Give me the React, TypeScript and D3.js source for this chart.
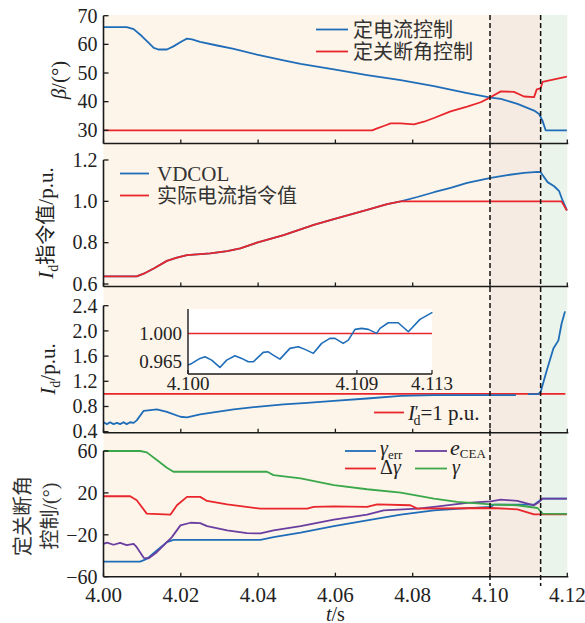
import * as d3 from 'd3';

// time axis
const tTicks = [4.0, 4.02, 4.04, 4.06, 4.08, 4.1, 4.12];
const tSwitch1 = 4.1;
const tSwitch2 = 4.1131;

// panel 1: beta
const betaTicks = [30, 40, 50, 60, 70];
const ccT = [4.0, 4.006, 4.0078, 4.0099, 4.0117, 4.013, 4.0142, 4.0164, 4.0181, 4.0203, 4.0216, 4.0229, 4.025, 4.0294, 4.0337, 4.0397, 4.0466, 4.051, 4.0596, 4.0682, 4.0769, 4.0855, 4.0941, 4.1002, 4.1028, 4.1071, 4.1114, 4.1127, 4.1136, 4.1144, 4.1199];
const ccV = [66, 66, 65.3, 62.9, 60.5, 58.8, 58.2, 58.2, 59.3, 61.1, 62.0, 61.7, 60.9, 59.6, 58.4, 56.4, 54.4, 53.2, 51.3, 49.3, 47.5, 45.4, 43.0, 41.4, 41.0, 39.2, 36.9, 35.7, 33.3, 30, 30];
const ceaT = [4.0, 4.0695, 4.0708, 4.0725, 4.0743, 4.0769, 4.0803, 4.0829, 4.0855, 4.0898, 4.0941, 4.0976, 4.1002, 4.1028, 4.1062, 4.1088, 4.1114, 4.1121, 4.1131, 4.1136, 4.1166, 4.1199];
const ceaV = [30, 30, 30.7, 31.5, 32.4, 32.4, 32.1, 33.0, 34.3, 36.6, 38.3, 39.8, 41.6, 43.6, 43.4, 41.8, 41.6, 44.3, 44.6, 46.9, 47.8, 48.7];

// panel 2: Id order
const idOrdTicks = [0.6, 0.8, 1.0, 1.2];
const actT = [4.0, 4.0086, 4.0104, 4.013, 4.0164, 4.019, 4.0216, 4.0276, 4.032, 4.0354, 4.0397, 4.0466, 4.0544, 4.0596, 4.0682, 4.0734, 4.0769, 4.1185, 4.1199];
const actV = [0.637, 0.637, 0.65, 0.675, 0.712, 0.728, 0.74, 0.748, 0.759, 0.772, 0.8, 0.837, 0.886, 0.914, 0.959, 0.987, 1.0, 1.0, 0.956];
const vdcolT = [4.0, 4.0086, 4.0104, 4.013, 4.0164, 4.019, 4.0216, 4.0276, 4.032, 4.0354, 4.0397, 4.0466, 4.0544, 4.0596, 4.0682, 4.0734, 4.0769, 4.0812, 4.0855, 4.0898, 4.0941, 4.1002, 4.1045, 4.1088, 4.1123, 4.1131, 4.1149, 4.1166, 4.1179, 4.1187, 4.1199];
const vdcolV = [0.637, 0.637, 0.65, 0.675, 0.712, 0.728, 0.74, 0.748, 0.759, 0.772, 0.8, 0.837, 0.886, 0.914, 0.959, 0.987, 1.0, 1.021, 1.044, 1.065, 1.089, 1.114, 1.127, 1.138, 1.143, 1.141, 1.093, 1.073, 1.049, 1.008, 0.956];

// panel 3: Id
const idTicks = [0.4, 0.8, 1.2, 1.6, 2.0, 2.4];
const idT = [4.0, 4.0009, 4.0017, 4.0026, 4.0035, 4.0043, 4.0052, 4.006, 4.0069, 4.0078, 4.0086, 4.0104, 4.0138, 4.0164, 4.0199, 4.0216, 4.025, 4.0337, 4.0397, 4.0466, 4.0527, 4.0596, 4.0682, 4.0769, 4.0855, 4.1002, 4.1067, 4.108, 4.1098, 4.1124, 4.1131, 4.1147, 4.1164, 4.1177, 4.1185, 4.1194];
const idV = [0.55, 0.52, 0.55, 0.52, 0.54, 0.52, 0.55, 0.52, 0.55, 0.54, 0.58, 0.732, 0.753, 0.716, 0.637, 0.627, 0.674, 0.753, 0.795, 0.832, 0.858, 0.89, 0.927, 0.969, 0.979, 0.979, 0.979, null, 0.995, 0.995, 1.03, 1.375, 1.72, 1.85, 2.11, 2.31];
const idRef = 1.0;

// inset
const insetTTicks = [4.1, 4.109, 4.113];
const insetVTicks = [0.965, 1.0];
const insetT = [4.1, 4.1002, 4.10064, 4.10091, 4.10126, 4.1017, 4.10206, 4.1025, 4.10286, 4.10321, 4.10348, 4.10401, 4.10428, 4.10454, 4.1049, 4.10543, 4.10588, 4.10623, 4.10668, 4.10712, 4.10756, 4.10783, 4.10827, 4.10854, 4.1089, 4.10925, 4.10961, 4.11005, 4.11023, 4.11067, 4.1112, 4.11174, 4.11236, 4.11302];
const insetV = [0.9609, 0.963, 0.9692, 0.9712, 0.9671, 0.9581, 0.9671, 0.9724, 0.9692, 0.965, 0.965, 0.9766, 0.9773, 0.9733, 0.9683, 0.9815, 0.9835, 0.9803, 0.9754, 0.9877, 0.9938, 0.9938, 0.9877, 0.9917, 1.0049, 1.0062, 1.0049, 1.0, 1.0062, 1.0131, 1.0131, 1.002, 1.0172, 1.0259];

// panel 4: extinction angle control
const gamTicks = [-60, -20, 20, 60];
const errT = [4.0, 4.0095, 4.0112, 4.0138, 4.0164, 4.0181, 4.0406, 4.044, 4.051, 4.0596, 4.0682, 4.0769, 4.0855, 4.0924, 4.1002, 4.101, 4.1114, 4.1136, 4.1199];
const errV = [-45.6, -45.6, -43, -35, -27, -24.8, -24.8, -22.2, -18, -11.7, -6.2, -0.8, 3.4, 5, 6.6, 8.8, 8.8, 14.6, 14.6];
const eT = [4.0, 4.0009, 4.0026, 4.0043, 4.006, 4.0078, 4.0086, 4.0104, 4.0117, 4.0138, 4.0164, 4.0177, 4.0199, 4.0225, 4.025, 4.0268, 4.032, 4.0371, 4.0406, 4.044, 4.051, 4.0596, 4.0682, 4.0725, 4.0812, 4.0855, 4.0941, 4.1002, 4.1028, 4.1071, 4.1114, 4.1127, 4.1136, 4.1199];
const eV = [-28.6, -27.5, -29.5, -27.8, -29.8, -28.6, -31.8, -42, -42.4, -36.6, -27, -22.2, -11, -8.5, -8.8, -11.7, -15.8, -18.4, -18.7, -15.8, -11.7, -5.6, -0.8, 3.4, 5, 6.6, 10.4, 12, 13.6, 12.3, 8.2, 11.4, 14.6, 14.6];
const dT = [4.0, 4.0069, 4.0086, 4.0112, 4.0173, 4.019, 4.0216, 4.025, 4.0268, 4.032, 4.0406, 4.0527, 4.0544, 4.0596, 4.0682, 4.0708, 4.0794, 4.0812, 4.1002, 4.1071, 4.1114, 4.1199];
const dV = [16.8, 16.8, 13, 0.2, -0.8, 8.2, 16.2, 16.2, 12.3, 9.1, 5, 5, 6.6, 7.2, 6.6, 9.1, 8.2, 5, 5.6, 4.3, -0.5, -0.5];
const gT = [4.0, 4.0095, 4.0112, 4.0138, 4.0164, 4.0181, 4.0423, 4.044, 4.051, 4.0596, 4.0682, 4.0769, 4.0855, 4.0915, 4.1002, 4.1071, 4.1123, 4.1136, 4.1199];
const gV = [60, 60, 58.7, 51.4, 44, 40.2, 40.2, 37, 33.8, 27.4, 23.5, 20.3, 14.6, 11.4, 9.1, 8.2, 5.6, 0.2, 0];

const BLUE = '#1f6db8';
const RED = '#e8262c';
const GREEN = '#3aa84a';
const PURPLE = '#6a3ea0';
const SERIF = '"Liberation Serif", "Times New Roman", serif';
const CJK = '"Noto Sans CJK SC", sans-serif';
const AX = '#1a1a1a';

const x = d3.scaleLinear().domain([4.0, 4.12]).range([103.5, 567.3]);

const p1 = d3.scaleLinear().domain([25.4, 70]).range([143.5, 15.7]);
const p2 = d3.scaleLinear().domain([0.588, 1.2]).range([286.5, 160]);
const p3 = d3.scaleLinear().domain([0.384, 2.4]).range([432.7, 305.7]);
const p4 = d3.scaleLinear().domain([-60, 60]).range([576.7, 451]);

const ix = d3.scaleLinear().domain([4.1, 4.113]).range([188, 432]);
const iy = d3.scaleLinear().domain([0.95, 1.03]).range([374, 309]);

function Series({ t, v, sx, sy, color, w = 1.8 }: any) {
  const line = d3.line<number>()
    .defined((i) => v[i] != null)
    .x((i) => sx(t[i]))
    .y((i) => sy(v[i]));
  return <path d={line(d3.range(t.length)) || ''} fill="none" stroke={color} strokeWidth={w} strokeLinejoin="round" />;
}

function Frame({ sy, ticks, fmt }: any) {
  const [bot, top] = sy.range();
  return (
    <g>
      <line x1={x(4.0)} x2={x(4.0)} y1={top} y2={bot} stroke={AX} strokeWidth={1.6} />
      <line x1={x(4.0)} x2={x(4.12) + 1} y1={bot} y2={bot} stroke={AX} strokeWidth={1.6} />
      {tTicks.map((t) => (
        <line key={t} x1={x(t)} x2={x(t)} y1={bot} y2={bot - 4} stroke={AX} strokeWidth={1.3} />
      ))}
      {ticks.map((v: number) => (
        <g key={v}>
          <line x1={x(4.0)} x2={x(4.0) + 5} y1={sy(v)} y2={sy(v)} stroke={AX} strokeWidth={1.3} />
          <text x={x(4.0) - 6} y={sy(v)} dy="0.34em" textAnchor="end" fontFamily={SERIF} fontSize={20} fill="#222">{fmt(v)}</text>
        </g>
      ))}
    </g>
  );
}

function LegendLine({ x1, x2, y, color }: any) {
  return <line x1={x1} x2={x2} y1={y} y2={y} stroke={color} strokeWidth={1.8} />;
}

export default function App() {
  const bgTop = 15;
  const bgBot = 577;
  return (
    <svg width={585} height={623} style={{ position: 'absolute', left: 0, top: 0, background: '#fff' }}>
      {/* operating-mode backgrounds */}
      <rect x={x(4.0)} y={bgTop} width={x(tSwitch1) - x(4.0)} height={bgBot - bgTop} fill="#fdf5e9" />
      <rect x={x(tSwitch1)} y={bgTop} width={x(tSwitch2) - x(tSwitch1)} height={bgBot - bgTop} fill="#f6ebe2" />
      <rect x={x(tSwitch2)} y={bgTop} width={x(4.12) - x(tSwitch2)} height={bgBot - bgTop} fill="#eaf4eb" />

      {/* panel 1 */}
      <Series t={ccT} v={ccV} sx={x} sy={p1} color={BLUE} />
      <Series t={ceaT} v={ceaV} sx={x} sy={p1} color={RED} />
      <Frame sy={p1} ticks={betaTicks} fmt={d3.format('d')} />
      <LegendLine x1={316} x2={348} y={29.5} color={BLUE} />
      <LegendLine x1={316} x2={348} y={51.5} color={RED} />
      <text x={353} y={29.5} dy="0.36em" fontFamily={CJK} fontSize={20} fill="#333">定电流控制</text>
      <text x={353} y={51.5} dy="0.36em" fontFamily={CJK} fontSize={20} fill="#333">定关断角控制</text>
      <text transform="translate(66,80) rotate(-90)" textAnchor="middle" fontFamily={SERIF} fontSize={21} fill="#222">
        <tspan fontStyle="italic">β</tspan>/(°)
      </text>

      {/* panel 2 */}
      <Series t={vdcolT} v={vdcolV} sx={x} sy={p2} color={BLUE} />
      <Series t={actT} v={actV} sx={x} sy={p2} color={RED} />
      <Frame sy={p2} ticks={idOrdTicks} fmt={d3.format('.1f')} />
      <LegendLine x1={120} x2={149} y={173.5} color={BLUE} />
      <LegendLine x1={120} x2={149} y={195.5} color={RED} />
      <text x={157} y={173.5} dy="0.34em" fontFamily={SERIF} fontSize={21} fill="#333">VDCOL</text>
      <text x={157} y={195.5} dy="0.36em" fontFamily={CJK} fontSize={20} fill="#333">实际电流指令值</text>
      <text transform="translate(53,223) rotate(-90)" textAnchor="middle" fontFamily={SERIF} fontSize={21} fill="#222">
        <tspan fontStyle="italic">I</tspan>
        <tspan fontSize={14} dy={5}>d</tspan>
        <tspan dy={-5} fontFamily={CJK} fontSize={20}>指令值</tspan>
        <tspan>/p.u.</tspan>
      </text>

      {/* panel 3 */}
      <line x1={x(4.0)} x2={x(4.1195)} y1={p3(idRef)} y2={p3(idRef)} stroke={RED} strokeWidth={1.8} />
      <Series t={idT} v={idV} sx={x} sy={p3} color={BLUE} />
      <Frame sy={p3} ticks={idTicks} fmt={d3.format('.1f')} />
      <LegendLine x1={374} x2={404} y={412.5} color={RED} />
      <text x={408} y={420} fontFamily={SERIF} fontSize={21} fill="#222">
        <tspan fontStyle="italic">I</tspan>
        <tspan fontSize={16} dy={-3}>′</tspan>
        <tspan fontSize={14} dx={-5} dy={8}>d</tspan>
        <tspan dy={-5}>=1 p.u.</tspan>
      </text>
      <text transform="translate(55,369) rotate(-90)" textAnchor="middle" fontFamily={SERIF} fontSize={21} fill="#222">
        <tspan fontStyle="italic">I</tspan>
        <tspan fontSize={14} dy={5}>d</tspan>
        <tspan dy={-5}>/p.u.</tspan>
      </text>

      {/* inset */}
      <rect x={ix(4.1)} y={iy(1.03)} width={ix(4.113) - ix(4.1)} height={iy(0.95) - iy(1.03)} fill="#fff" />
      <line x1={ix(4.1)} x2={ix(4.113)} y1={iy(1.0)} y2={iy(1.0)} stroke={RED} strokeWidth={1.5} />
      <Series t={insetT} v={insetV} sx={ix} sy={iy} color={BLUE} w={1.6} />
      <line x1={ix(4.1)} x2={ix(4.1)} y1={iy(1.03)} y2={iy(0.95)} stroke={AX} strokeWidth={1.4} />
      <line x1={ix(4.1)} x2={ix(4.113)} y1={iy(0.95)} y2={iy(0.95)} stroke={AX} strokeWidth={1.4} />
      {insetTTicks.map((t) => (
        <g key={t}>
          <line x1={ix(t)} x2={ix(t)} y1={iy(0.95)} y2={iy(0.95) - 4} stroke={AX} strokeWidth={1.2} />
          <text x={ix(t)} y={390} textAnchor="middle" fontFamily={SERIF} fontSize={19} fill="#222">{d3.format('.3f')(t)}</text>
        </g>
      ))}
      {insetVTicks.map((v) => (
        <text key={v} x={ix(4.1) - 6} y={iy(v)} dy="0.34em" textAnchor="end" fontFamily={SERIF} fontSize={19} fill="#222">{d3.format('.3f')(v)}</text>
      ))}

      {/* panel 4 */}
      <Series t={errT} v={errV} sx={x} sy={p4} color={BLUE} />
      <Series t={eT} v={eV} sx={x} sy={p4} color={PURPLE} />
      <Series t={dT} v={dV} sx={x} sy={p4} color={RED} />
      <Series t={gT} v={gV} sx={x} sy={p4} color={GREEN} />
      <Frame sy={p4} ticks={gamTicks} fmt={d3.format('d')} />
      <LegendLine x1={345} x2={376} y={451} color={BLUE} />
      <LegendLine x1={415} x2={447} y={451} color={PURPLE} />
      <LegendLine x1={345} x2={376} y={468.5} color={RED} />
      <LegendLine x1={415} x2={447} y={468.5} color={GREEN} />
      <text x={380} y={455} fontFamily={SERIF} fontSize={20} fill="#222">
        <tspan fontStyle="italic">γ</tspan>
        <tspan fontSize={13} dy={4}>err</tspan>
      </text>
      <text x={450} y={455} fontFamily={SERIF} fontSize={22} fill="#222">
        <tspan fontStyle="italic">e</tspan>
        <tspan fontSize={13} dy={3}>CEA</tspan>
      </text>
      <text x={380} y={474} fontFamily={SERIF} fontSize={20} fill="#222">
        Δ<tspan fontStyle="italic">γ</tspan>
      </text>
      <text x={452} y={474} fontFamily={SERIF} fontSize={20} fill="#222" fontStyle="italic">γ</text>
      <text transform="translate(30,516) rotate(-90)" textAnchor="middle" fontFamily={CJK} fontSize={20} fill="#333">定关断角</text>
      <text transform="translate(57,516) rotate(-90)" textAnchor="middle" fontFamily={CJK} fontSize={20} fill="#333">
        控制<tspan fontFamily={SERIF}>/(°)</tspan>
      </text>

      {/* x tick labels */}
      {tTicks.map((t) => (
        <text key={t} x={x(t)} y={602} textAnchor="middle" fontFamily={SERIF} fontSize={21} fill="#222">{d3.format('.2f')(t)}</text>
      ))}
      <text x={x(4.06)} y={621} textAnchor="middle" fontFamily={SERIF} fontSize={20} fill="#222">
        <tspan fontStyle="italic">t</tspan>/s
      </text>

      {/* mode switch markers */}
      {[tSwitch1, tSwitch2].map((t) => (
        <line key={t} x1={x(t)} x2={x(t)} y1={bgTop} y2={586} stroke="#111" strokeWidth={1.5} strokeDasharray="5,3" />
      ))}
    </svg>
  );
}
